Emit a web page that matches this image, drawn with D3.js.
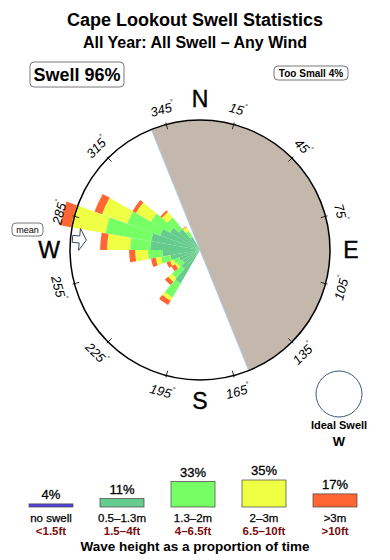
<!DOCTYPE html>
<html>
<head>
<meta charset="utf-8">
<script src="https://cdn.jsdelivr.net/npm/d3@7"></script>
<style>
body { margin: 0; background: #fff; }
text { font-family: "Liberation Sans", Arial, sans-serif; }
</style>
</head>
<body>
<script>
// swell direction bins (deg, 10 deg wide) and % of time per height band
var directions = [215, 225, 235, 245, 255, 265, 275, 285, 295, 305, 315, 325];
var band05 = [2.0, 0.8, 0.55, 0.65, 1.2, 1.9, 3.3, 3.3, 2.4, 1.6, 1.0, 0.3];
var band13 = [2.0, 1.0, 0.35, 0.4, 0.9, 1.7, 3.2, 9.0, 5.6, 2.7, 1.4, 0.35];
var band2 = [0.6, 0.5, 0.2, 0.3, 0.6, 2.0, 5.0, 10.6, 6.5, 3.0, 0.9, 0.3];
var band3 = [0.8, 0.5, 0.35, 0.35, 0.6, 1.1, 1.8, 4.0, 2.3, 0.8, 0.3, 0.05];

var meanDirection = 275;
var landFrom = 338, landTo = 158;

var tickBearings = [15, 45, 75, 105, 135, 165, 195, 225, 255, 285, 315, 345];
var compass = ["N", "E", "S", "W"];
var compassBearings = [0, 90, 180, 270];

var legendNames = ["no swell", "0.5\u20131.3m", "1.3\u20132m", "2\u20133m", ">3m"];
var legendFeet = ["<1.5ft", "1.5\u20134ft", "4\u20136.5ft", "6.5\u201310ft", ">10ft"];
var legendPct = [4, 11, 33, 35, 17];
var colors = ["#5544dd", "#66cc8d", "#77ff66", "#eeff44", "#ff6633"];

var w = 390, h = 560;
var cx = 200, cy = 250, R = 130;
var rad = Math.PI / 180;

var svg = d3.select("body").append("svg")
	.attr("width", w)
	.attr("height", h);

// titles
svg.append("text")
	.attr("x", 195).attr("y", 26)
	.attr("text-anchor", "middle")
	.attr("font-size", "18px").attr("font-weight", "bold")
	.text("Cape Lookout Swell Statistics");
svg.append("text")
	.attr("x", 195).attr("y", 48)
	.attr("text-anchor", "middle")
	.attr("font-size", "16px").attr("font-weight", "bold")
	.text("All Year: All Swell \u2013 Any Wind");

function labelBox(x, y, bw, bh, txt, size, ty){
	svg.append("rect")
		.attr("x", x).attr("y", y).attr("width", bw).attr("height", bh)
		.attr("rx", 4)
		.attr("fill", "#fff").attr("stroke", "#555").attr("stroke-width", 0.8);
	svg.append("text")
		.attr("x", x + bw / 2).attr("y", ty)
		.attr("text-anchor", "middle")
		.attr("font-size", size).attr("font-weight", "bold")
		.text(txt);
}
labelBox(30, 62, 94, 25, "Swell 96%", "18px", 81);
labelBox(274, 66, 74, 14, "Too Small 4%", "10px", 77);

var rose = svg.append("g").attr("transform", "translate(" + cx + "," + cy + ")");

rose.append("circle").attr("r", R).attr("fill", "#fff");

// land
var land = d3.arc()
	.innerRadius(0).outerRadius(R)
	.startAngle(landFrom * rad - 2 * Math.PI)
	.endAngle(landTo * rad);
rose.append("path").attr("d", land()).attr("fill", "#c4b8ad");
rose.append("line")
	.attr("x1", R * Math.sin(landFrom * rad)).attr("y1", -R * Math.cos(landFrom * rad))
	.attr("x2", R * Math.sin(landTo * rad)).attr("y2", -R * Math.cos(landTo * rad))
	.attr("stroke", "#a9cbe6").attr("stroke-width", 1);

// petals
var rows = directions.map(function(d, i){
	return {dir: d, b05: band05[i], b13: band13[i], b2: band2[i], b3: band3[i]};
});
var keys = ["b05", "b13", "b2", "b3"];
var stacked = d3.stack().keys(keys)(rows);

var rScale = d3.scaleSqrt().domain([0, 30]).range([0, 150]);

var arc = d3.arc()
	.innerRadius(function(d){ return rScale(d[0]); })
	.outerRadius(function(d){ return rScale(d[1]); })
	.startAngle(function(d){ return (d.data.dir - 5) * rad; })
	.endAngle(function(d){ return (d.data.dir + 5) * rad; });

rose.selectAll(".band")
	.data(stacked)
	.enter()
	.append("g")
	.attr("fill", function(d, i){ return colors[i + 1]; })
	.selectAll("path")
	.data(function(d){ return d; })
	.enter()
	.append("path")
	.attr("d", arc);

rose.append("circle").attr("r", R)
	.attr("fill", "none").attr("stroke", "#000").attr("stroke-width", 1.5);

// ticks and degree labels
rose.selectAll(".tick")
	.data(tickBearings)
	.enter()
	.append("line")
	.attr("x1", function(d){ return 125 * Math.sin(d * rad); })
	.attr("y1", function(d){ return -125 * Math.cos(d * rad); })
	.attr("x2", function(d){ return 132 * Math.sin(d * rad); })
	.attr("y2", function(d){ return -132 * Math.cos(d * rad); })
	.attr("stroke", "#000").attr("stroke-width", 0.8);

var deg = rose.selectAll(".deg")
	.data(tickBearings)
	.enter()
	.append("text")
	.attr("transform", function(d){
		var a = d % 180;
		if (a > 90) a = a - 180;
		return "translate(" + (146 * Math.sin(d * rad)) + "," + (-146 * Math.cos(d * rad)) + ") rotate(" + a + ")";
	})
	.attr("text-anchor", "middle")
	.attr("dominant-baseline", "central")
	.attr("font-size", "13px")
	.attr("font-style", "italic");
deg.append("tspan").text(function(d){ return d; });
deg.append("tspan").attr("font-size", "7px").attr("dy", -5).text("\u00b0");

rose.selectAll(".cmp")
	.data(compass)
	.enter()
	.append("text")
	.attr("x", function(d, i){ return 151 * Math.sin(compassBearings[i] * rad); })
	.attr("y", function(d, i){ return -151 * Math.cos(compassBearings[i] * rad); })
	.attr("text-anchor", "middle")
	.attr("dominant-baseline", "central")
	.attr("font-size", "23px")
	.attr("stroke", "#000").attr("stroke-width", 0.4)
	.text(function(d){ return d; });

// mean arrow
var arrow = [[-128, -3.5], [-121, -3.5], [-121, -11], [-114, 0], [-121, 11], [-121, 3.5], [-128, 3.5]];
rose.append("path")
	.attr("d", d3.line()(arrow) + "Z")
	.attr("transform", "rotate(" + (meanDirection - 270) + ")")
	.attr("fill", "#fff").attr("stroke", "#2a3a55").attr("stroke-width", 0.9);

svg.append("rect")
	.attr("x", 12).attr("y", 223).attr("width", 31).attr("height", 13)
	.attr("rx", 4)
	.attr("fill", "#fff").attr("stroke", "#555").attr("stroke-width", 0.8);
svg.append("text")
	.attr("x", 27.5).attr("y", 233)
	.attr("text-anchor", "middle")
	.attr("font-size", "9px")
	.text("mean");

// ideal swell
svg.append("circle")
	.attr("cx", 339).attr("cy", 394).attr("r", 23)
	.attr("fill", "#fff").attr("stroke", "#3a5a80").attr("stroke-width", 1);
svg.append("text")
	.attr("x", 339).attr("y", 429)
	.attr("text-anchor", "middle")
	.attr("font-size", "11px").attr("font-weight", "bold")
	.text("Ideal Swell");
svg.append("text")
	.attr("x", 339).attr("y", 446)
	.attr("text-anchor", "middle")
	.attr("font-size", "13px").attr("font-weight", "bold")
	.text("W");

// legend
var lx = d3.scalePoint().domain(d3.range(legendPct.length)).range([51, 335]);
var lh = d3.scaleLinear().domain([0, 35]).range([0, 27]);
var base = 507;

var items = svg.selectAll(".leg")
	.data(legendPct)
	.enter()
	.append("g")
	.attr("transform", function(d, i){ return "translate(" + lx(i) + ",0)"; });

items.append("rect")
	.attr("x", -22).attr("width", 44)
	.attr("y", function(d){ return base - lh(d); })
	.attr("height", function(d){ return lh(d); })
	.attr("fill", function(d, i){ return colors[i]; })
	.attr("stroke", "#444").attr("stroke-width", 0.7);

items.append("text")
	.attr("y", function(d){ return base - lh(d) - 5; })
	.attr("text-anchor", "middle")
	.attr("font-size", "13px")
	.attr("stroke", "#000").attr("stroke-width", 0.3)
	.text(function(d){ return d + "%"; });

items.append("text")
	.attr("y", 522)
	.attr("text-anchor", "middle")
	.attr("font-size", "11.5px")
	.attr("stroke", "#000").attr("stroke-width", 0.25)
	.text(function(d, i){ return legendNames[i]; });

items.append("text")
	.attr("y", 535)
	.attr("text-anchor", "middle")
	.attr("font-size", "11.5px").attr("font-weight", "bold")
	.attr("fill", "#7a0c0c")
	.text(function(d, i){ return legendFeet[i]; });

svg.append("text")
	.attr("x", 195).attr("y", 551)
	.attr("text-anchor", "middle")
	.attr("font-size", "13.5px").attr("font-weight", "bold")
	.text("Wave height as a proportion of time");
</script>
</body>
</html>
